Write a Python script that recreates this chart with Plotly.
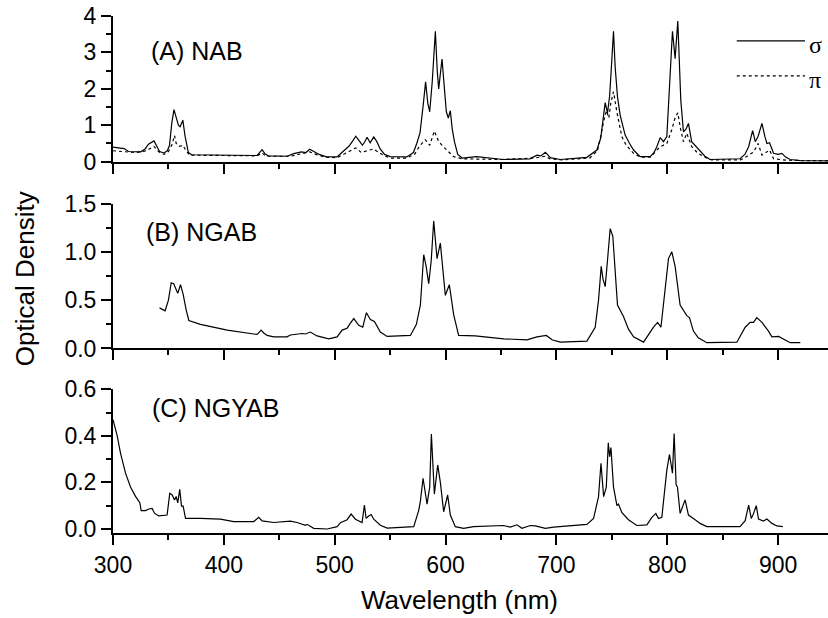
import plotly.graph_objects as go

# ---------------- data ----------------
wl_a_sigma = [300, 305, 310, 314, 325, 329, 332, 337, 340, 342, 346, 349, 351, 353, 355, 357, 359, 360.5, 363, 365, 368, 371,
              400, 430, 432, 434.5, 437, 440, 457, 463, 470, 474, 477.5, 482, 486, 492, 502, 505, 509, 513, 516, 519, 522, 525,
              527, 529.2, 532, 535.2, 538, 541, 545, 550, 565, 571, 574, 577, 580, 582, 584, 585.7, 588, 590.8, 592.5, 593.8,
              596.8, 599, 600.7, 602.5, 604.3, 606, 608, 611, 615, 628, 652, 676, 682.5, 686, 690, 694.5, 703.5, 727.5, 736.5,
              740, 742, 744, 746.1, 748, 750, 751.5, 753, 755.1, 757.5, 760, 762, 766, 769.6, 775.6, 784.6, 788, 790.6, 793.6,
              796.6, 799.6, 802, 804.7, 807.1, 809.5, 812.2, 814.6, 817, 819.1, 822, 826, 829.6, 834, 838.6, 865.6, 870, 873.4,
              877, 879.4, 882, 885.4, 888, 889.9, 892.3, 895.9, 900, 903.4, 907, 910.9, 920, 945]
od_a_sigma = [0.40, 0.39, 0.36, 0.28, 0.27, 0.35, 0.48, 0.57, 0.38, 0.28, 0.24, 0.30, 0.45, 1.05, 1.43, 1.20, 1.00, 0.96, 1.14, 0.70, 0.25, 0.19,
              0.18, 0.17, 0.24, 0.33, 0.22, 0.16, 0.15, 0.22, 0.27, 0.25, 0.34, 0.26, 0.20, 0.14, 0.13, 0.21, 0.33, 0.43, 0.56, 0.70, 0.58, 0.45,
              0.54, 0.67, 0.52, 0.68, 0.55, 0.35, 0.20, 0.14, 0.13, 0.25, 0.50, 0.80, 1.60, 2.19, 1.60, 1.37, 2.20, 3.58, 2.50, 2.00,
              2.82, 2.00, 1.37, 1.20, 1.40, 0.90, 0.55, 0.20, 0.10, 0.14, 0.06, 0.08, 0.18, 0.16, 0.26, 0.11, 0.06, 0.12, 0.32,
              0.65, 1.10, 1.62, 1.34, 1.80, 2.80, 3.58, 2.60, 1.78, 1.28, 0.95, 0.73, 0.50, 0.32, 0.14, 0.14, 0.25, 0.41, 0.66,
              0.55, 0.69, 2.15, 3.58, 2.83, 3.86, 1.69, 0.82, 0.90, 1.05, 0.55, 0.42, 0.32, 0.15, 0.06, 0.08, 0.20, 0.41,
              0.85, 0.55, 0.70, 1.05, 0.70, 0.50, 0.52, 0.23, 0.20, 0.23, 0.12, 0.06, 0.03, 0.02]

wl_a_pi = [300, 310, 320, 330, 337, 341, 346, 350, 353, 355.5, 357, 360, 363, 366, 369, 400, 430, 434.5, 438, 460, 470, 477.5, 483,
           492, 502, 507, 513, 519, 524, 529, 535, 540, 545, 550, 565, 572, 577, 581.8, 585.7, 589.9, 593.8, 598.3, 603, 607.3,
           615, 650, 680, 690, 694, 705, 730, 737, 740, 742.8, 745.2, 747.3, 749, 751.5, 754.5, 757, 759, 763, 769.6, 776, 785,
           790, 793.6, 799.6, 804, 807, 809.5, 812, 814.6, 817.6, 822.1, 827, 832.6, 840, 866, 872, 878, 882, 885.4, 889, 892.3,
           895.9, 908, 945]
od_a_pi = [0.30, 0.28, 0.25, 0.30, 0.42, 0.28, 0.20, 0.28, 0.45, 0.72, 0.50, 0.42, 0.45, 0.30, 0.18, 0.17, 0.16, 0.24, 0.15, 0.15, 0.22, 0.27, 0.20,
           0.12, 0.11, 0.18, 0.28, 0.38, 0.25, 0.30, 0.35, 0.25, 0.16, 0.10, 0.10, 0.20, 0.45, 0.60, 0.45, 0.84, 0.55, 0.40, 0.25, 0.14,
           0.08, 0.06, 0.10, 0.15, 0.08, 0.05, 0.10, 0.30, 0.70, 1.14, 1.40, 1.20, 1.60, 1.92, 1.37, 1.00, 0.69, 0.45, 0.23, 0.12, 0.13,
           0.30, 0.41, 0.50, 0.87, 1.20, 1.34, 0.90, 0.55, 0.78, 0.41, 0.25, 0.14, 0.05, 0.05, 0.15, 0.27, 0.50, 0.18, 0.25, 0.32,
           0.08, 0.04, 0.02]

wl_b = [342, 347, 350, 352.5, 354.8, 358.4, 360.9, 363.3, 366, 368.4, 378.9, 403, 427, 430, 433.6, 436, 439, 445, 457, 460, 470.6,
        473.6, 478, 484.1, 494.6, 502.2, 506.7, 511.2, 514, 517.2, 521.7, 525.3, 528.6, 532.2, 535.8, 541.2, 547.3, 568.3, 573.7,
        577.3, 580.3, 582.5, 584.8, 587, 589.3, 591, 592.3, 595.3, 597.5, 599.8, 603.4, 605.5, 607.3, 611.8, 626.8, 652.4, 673.4,
        682.5, 690.9, 696, 703.5, 727.5, 735, 738, 740.4, 742, 744, 746, 748.5, 750.9, 753, 755.1, 760.5, 765, 769.6, 778.6,
        787.6, 791.3, 794.3, 797, 801.1, 804.1, 807.1, 811.6, 817.6, 820, 823.6, 828, 835.7, 862.8, 870.3, 874.8, 877.8, 880.8,
        885.4, 891.3, 894.4, 900.4, 906.4, 910.9, 920]
od_b = [0.42, 0.39, 0.50, 0.68, 0.67, 0.57, 0.66, 0.56, 0.40, 0.29, 0.25, 0.19, 0.15, 0.145, 0.19, 0.16, 0.135, 0.12, 0.12, 0.14, 0.155,
        0.15, 0.17, 0.13, 0.10, 0.12, 0.19, 0.21, 0.26, 0.31, 0.24, 0.22, 0.37, 0.30, 0.28, 0.17, 0.125, 0.135, 0.25,
        0.45, 0.97, 0.85, 0.67, 0.90, 1.32, 1.10, 0.93, 1.09, 0.85, 0.55, 0.66, 0.50, 0.35, 0.135, 0.13, 0.10, 0.09,
        0.12, 0.135, 0.09, 0.066, 0.076, 0.22, 0.50, 0.85, 0.72, 0.64, 0.90, 1.24, 1.16, 0.80, 0.45, 0.33, 0.20, 0.12, 0.066,
        0.22, 0.27, 0.22, 0.50, 0.93, 1.00, 0.85, 0.45, 0.34, 0.32, 0.18, 0.11, 0.06, 0.065, 0.22, 0.27, 0.27, 0.32,
        0.27, 0.18, 0.12, 0.125, 0.09, 0.06, 0.06]

wl_c = [300, 303.8, 306.8, 311.3, 315.8, 320.3, 324.2, 325.4, 329.3, 332.3, 335.3, 337.4, 341.3, 348.8, 351.2, 353.4, 355.5, 357,
        358.4, 360.2, 361.8, 363.3, 365.4, 378.9, 396.9, 408.9, 427, 431.5, 434.5, 445, 460, 466, 473.6, 475.1, 481.1, 493.2,
        502.2, 505.2, 511.2, 514.8, 518.7, 524.7, 526.8, 528.3, 530.7, 532.9, 535.2, 541.2, 547.3, 571.3, 575.8, 577.3, 579.7,
        583.3, 585.7, 587.2, 589.9, 592.9, 595.3, 598.3, 601.9, 604.3, 608.8, 616.3, 625.3, 652.4, 658.4, 664.4, 668.9, 676.5,
        681, 690, 697.5, 727.5, 733.5, 738, 740.2, 742.6, 745, 746.8, 748, 749.2, 751.5, 754.6, 756, 759.1, 765, 772.6, 781.6,
        786.1, 789.7, 792.1, 795.1, 799.6, 802, 803.2, 804.7, 806.2, 808, 809.2, 811.6, 816.1, 819.1, 823.6, 829.6, 835.7,
        865.6, 870.3, 873.4, 875.8, 877.8, 880.3, 882.3, 886.8, 889.9, 894.4, 898.9, 904.3]
od_c = [0.47, 0.40, 0.325, 0.24, 0.18, 0.14, 0.113, 0.079, 0.079, 0.086, 0.088, 0.068, 0.056, 0.06, 0.153, 0.146, 0.125, 0.14,
        0.112, 0.17, 0.098, 0.098, 0.046, 0.046, 0.042, 0.032, 0.032, 0.05, 0.035, 0.028, 0.034, 0.028, 0.016, 0.02, 0.003, 0.0,
        0.01, 0.027, 0.04, 0.064, 0.042, 0.028, 0.103, 0.046, 0.056, 0.062, 0.042, 0.016, 0.004, 0.01, 0.08, 0.12, 0.218,
        0.107, 0.18, 0.408, 0.15, 0.275, 0.20, 0.074, 0.146, 0.06, 0.01, 0.003, 0.01, 0.015, 0.008, 0.018, 0.003, 0.015,
        0.013, 0.003, 0.008, 0.02, 0.045, 0.139, 0.282, 0.139, 0.18, 0.37, 0.31, 0.35, 0.18, 0.10, 0.107, 0.07, 0.04, 0.015, 0.018,
        0.05, 0.067, 0.045, 0.05, 0.253, 0.32, 0.28, 0.24, 0.41, 0.19, 0.18, 0.067, 0.125, 0.06, 0.045, 0.024, 0.01,
        0.01, 0.036, 0.103, 0.045, 0.066, 0.10, 0.043, 0.034, 0.043, 0.024, 0.013, 0.01]

x_range = [300, 945]
panel_labels = ["(A) NAB", "(B) NGAB", "(C) NGYAB"]
legend_labels = ["σ", "π"]
x_title = "Wavelength (nm)"
y_title = "Optical Density"

# ---------------- figure ----------------
FONT = "Arial, 'Liberation Sans', Helvetica, sans-serif"
fig = go.Figure()
line_style = dict(color="black", width=1.2)
fig.add_trace(go.Scatter(x=wl_a_sigma, y=od_a_sigma, mode="lines", line=line_style, xaxis="x", yaxis="y", showlegend=False))
fig.add_trace(go.Scatter(x=wl_a_pi, y=od_a_pi, mode="lines", line=dict(color="black", width=1.2, dash="dot"),
                         xaxis="x", yaxis="y", showlegend=False))
fig.add_trace(go.Scatter(x=wl_b, y=od_b, mode="lines", line=line_style, xaxis="x2", yaxis="y2", showlegend=False))
fig.add_trace(go.Scatter(x=wl_c, y=od_c, mode="lines", line=line_style, xaxis="x3", yaxis="y3", showlegend=False))

common = dict(showline=True, linecolor="black", linewidth=2, ticks="outside", ticklen=10, tickwidth=2,
              tickcolor="black", showgrid=False, zeroline=False, automargin=False,
              tickfont=dict(family=FONT, size=23, color="black"))

def xax(anchor, labels):
    d = dict(common)
    d.update(range=x_range, tick0=0, dtick=100, anchor=anchor, showticklabels=labels,
             minor=dict(ticks="outside", ticklen=5, tickwidth=2, tickcolor="black", dtick=50, tick0=0, showgrid=False))
    return d

def yax(anchor, domain, rng, dtick, mdtick, fmt):
    d = dict(common)
    d.update(range=rng, domain=domain, tick0=0, dtick=dtick, anchor=anchor, tickformat=fmt,
             minor=dict(ticks="outside", ticklen=5, tickwidth=2, tickcolor="black", dtick=mdtick, tick0=0, showgrid=False))
    return d

fig.update_layout(
    width=828, height=618,
    margin=dict(l=113, r=0, t=16, b=85),
    paper_bgcolor="white", plot_bgcolor="white",
    showlegend=False,
    xaxis=xax("y", False),
    xaxis2=xax("y2", False),
    xaxis3=xax("y3", True),
    yaxis=yax("x", [0.7182, 1.0], [0, 4], 1, 0.5, "d"),
    yaxis2=yax("x2", [0.3569, 0.6373], [0, 1.5], 0.5, 0.25, ".1f"),
    yaxis3=yax("x3", [0.0, 0.278], [-0.0172, 0.6], 0.2, 0.1, ".1f"),
)

ann_font = dict(family=FONT, size=25, color="black")
label_pos = [(0.118, 0.932), (0.1238, 0.582), (0.1427, 0.2427)]
for txt, (px, py) in zip(panel_labels, label_pos):
    fig.add_annotation(text=txt, x=px, y=py, xref="paper", yref="paper", showarrow=False,
                       xanchor="center", yanchor="middle", font=ann_font)

# axis titles
fig.add_annotation(text=x_title, x=0.4853, y=-0.1296, xref="paper", yref="paper", showarrow=False,
                   xanchor="center", yanchor="middle", font=dict(family=FONT, size=26, color="black"))
fig.add_annotation(text=y_title, x=-0.123, y=0.491, xref="paper", yref="paper", showarrow=False, textangle=-90,
                   xanchor="center", yanchor="middle", font=dict(family=FONT, size=26, color="black"))

# legend
leg_x0, leg_x1, leg_tx = 0.8724, 0.9678, 0.9720
for lbl, ly, ty, dash in [(legend_labels[0], 0.952, 0.944, "solid"), (legend_labels[1], 0.884, 0.876, "dot")]:
    fig.add_shape(type="line", xref="paper", yref="paper", x0=leg_x0, x1=leg_x1, y0=ly, y1=ly,
                  line=dict(color="black", width=1.2, dash=dash))
    fig.add_annotation(text=lbl, x=leg_tx, y=ty, xref="paper", yref="paper", showarrow=False,
                       xanchor="left", yanchor="middle", borderpad=0,
                       font=dict(family="'Liberation Serif', 'Times New Roman', serif", size=24, color="black"))

fig.write_html("out.html", config={"displayModeBar": False},
               post_script="document.body.style.margin='0';document.body.style.overflow='hidden';")
